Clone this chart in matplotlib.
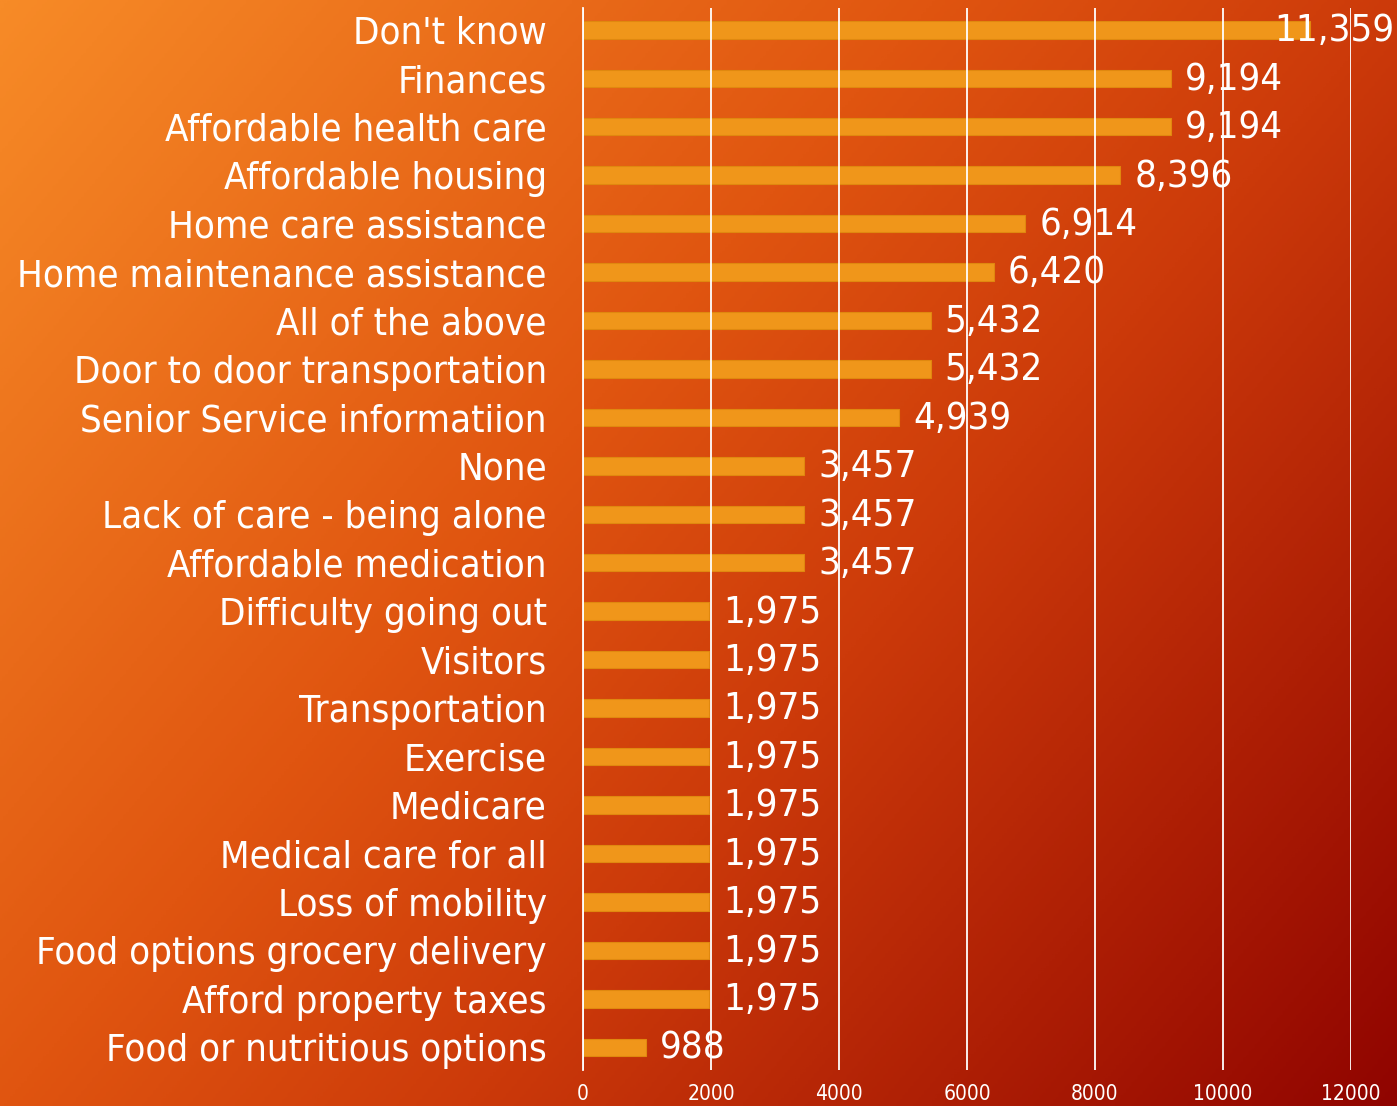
import numpy as np
import matplotlib.pyplot as plt
from matplotlib.colors import LinearSegmentedColormap

# categories, top to bottom
labels = ["Don't know", "Finances", "Affordable health care", "Affordable housing",
          "Home care assistance", "Home maintenance assistance", "All of the above",
          "Door to door transportation", "Senior Service informatiion", "None",
          "Lack of care - being alone", "Affordable medication", "Difficulty going out",
          "Visitors", "Transportation", "Exercise", "Medicare", "Medical care for all",
          "Loss of mobility", "Food options grocery delivery", "Afford property taxes",
          "Food or nutritious options"]
values = [11359, 9194, 9194, 8396, 6914, 6420, 5432, 5432, 4939, 3457, 3457, 3457,
          1975, 1975, 1975, 1975, 1975, 1975, 1975, 1975, 1975, 988]
xticks = [0, 2000, 4000, 6000, 8000, 10000, 12000]

FONT = dict(family="DejaVu Sans", fontstretch="condensed")

fig = plt.figure(figsize=(13.97, 11.06), dpi=100)

# diagonal gradient background (orange top-left -> dark red bottom-right)
bg = fig.add_axes([0, 0, 1, 1], zorder=0)
gx, gy = np.meshgrid(np.linspace(0, 1, 500), np.linspace(0, 1, 500))
grad = 0.6 * gx + 0.4 * gy
cmap = LinearSegmentedColormap.from_list(
    "bg", [(0, "#F78B27"), (0.4, "#E05510"), (0.6, "#CC3A0A"), (1, "#900400")])
bg.imshow(grad, cmap=cmap, aspect="auto", extent=[0, 1, 0, 1], origin="upper")
bg.axis("off")

ax = fig.add_axes([583 / 1397, 1 - 1070 / 1106, 768 / 1397, 1062 / 1106], zorder=1)
ax.patch.set_alpha(0)

y = np.arange(len(labels))
bars = ax.barh(y, values, height=0.36, color="#F0961A", edgecolor="#E0880F",
               linewidth=0.8, zorder=2)

ax.set_xlim(0, 12000)
ax.set_ylim(len(labels) - 0.53, -0.45)
ax.set_xticks(xticks)
ax.set_xticklabels([str(t) for t in xticks], color="white", fontsize=15, **FONT)
ax.set_yticks(y)
ax.set_yticklabels(labels, color="white", fontsize=27.5, **FONT)
ax.tick_params(axis="both", length=0)
ax.tick_params(axis="y", pad=26)
ax.tick_params(axis="x", pad=10)

ax.grid(axis="x", color="white", linewidth=1.3, zorder=3)
ax.set_axisbelow(False)
for s in ["top", "right", "bottom"]:
    ax.spines[s].set_visible(False)
ax.spines["left"].set_color("white")
ax.spines["left"].set_linewidth(1.3)

for b, v in zip(bars, values):
    yc = b.get_y() + b.get_height() / 2
    if v > 11000:
        # too long to fit after the bar: pin to the right edge
        ax.annotate(f"{v:,}", (1.0, yc), xycoords=("axes fraction", "data"),
                    xytext=(31, -1), textcoords="offset points", va="center", ha="right",
                    color="white", fontsize=27.5, annotation_clip=False, zorder=4, **FONT)
    else:
        ax.annotate(f"{v:,}", (v, yc), xytext=(10, -1),
                    textcoords="offset points", va="center", ha="left",
                    color="white", fontsize=27.5, annotation_clip=False, zorder=4, **FONT)

fig.savefig("out.png", dpi=100)
